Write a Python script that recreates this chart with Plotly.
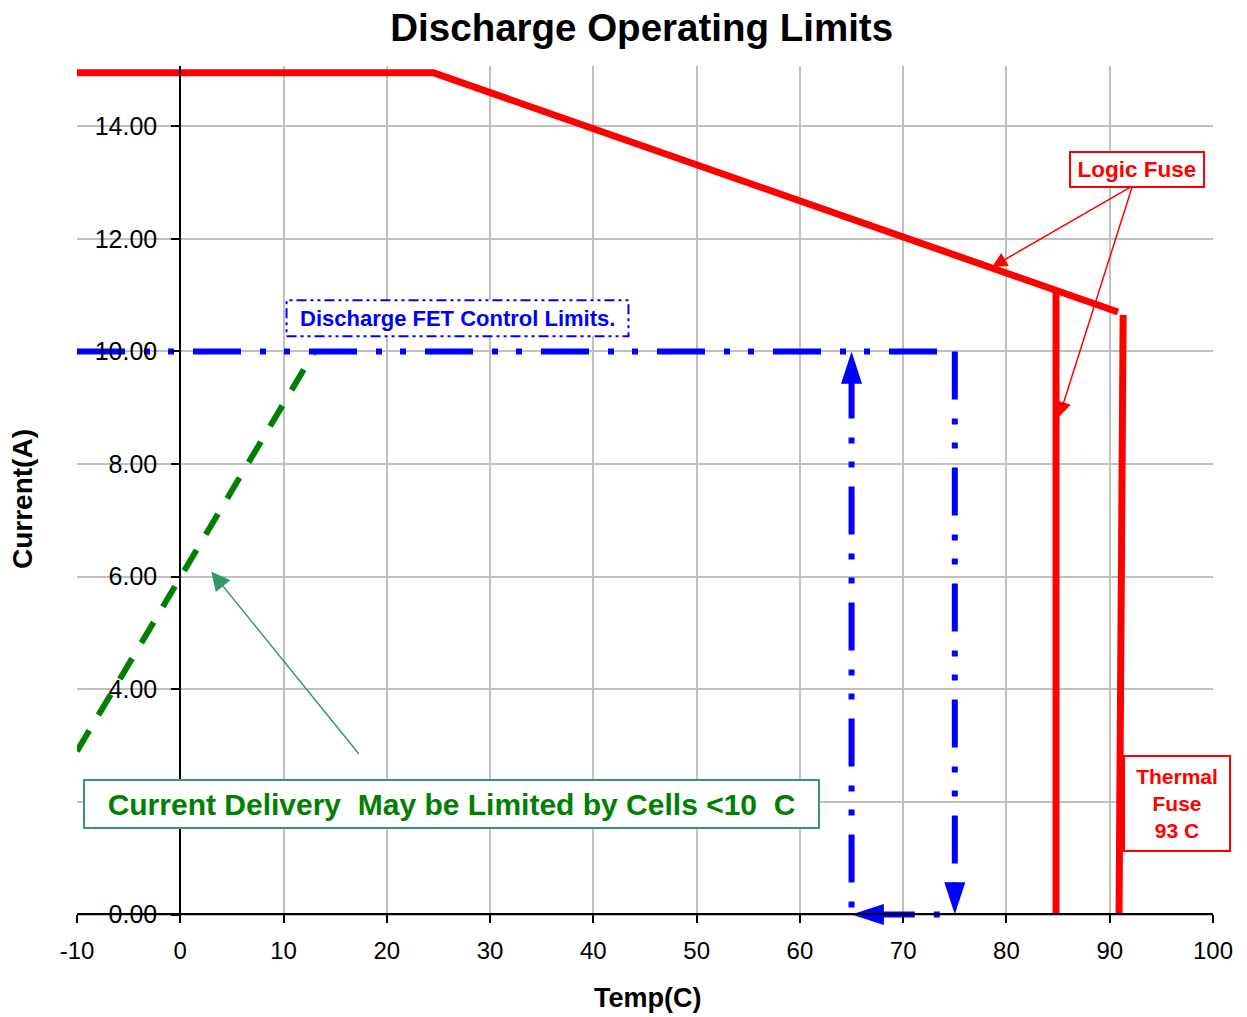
import plotly.graph_objects as go

# ---------------- data ----------------
temp_ticks = [-10, 0, 10, 20, 30, 40, 50, 60, 70, 80, 90, 100]
temp_tick_labels = ["-10", "0", "10", "20", "30", "40", "50", "60", "70", "80", "90", "100"]
current_ticks = [0, 2, 4, 6, 8, 10, 12, 14]
# the 2.00 label sits hidden behind the green note box in the reference
current_tick_labels = ["0.00", "", "4.00", "6.00", "8.00", "10.00", "12.00", "14.00"]

limit_temp = [-10, 24.5, 90.8]
limit_current = [14.95, 14.95, 10.7]
logic_fuse_temp = [84.8, 84.8]
logic_fuse_current = [11.1, 0]
thermal_fuse_temp = [91.3, 90.9]
thermal_fuse_current = [10.65, 0]
cell_temp = [-10, 13]
cell_current = [2.9, 10]
fet_temp = [-10, 75, 75, 65, 65]
fet_current = [10, 10, 0, 0, 10]

# ---------------- styles ----------------
RED = "#FF0000"
BLUE = "#0000FF"
GREEN = "#008000"
SEA = "#339966"
FONT = "Liberation Sans, Arial, sans-serif"
GRID = "#C0C0C0"

fig = go.Figure()

# green dashed cell limit
fig.add_trace(go.Scatter(x=cell_temp, y=cell_current, mode="lines",
                         line=dict(color=GREEN, width=6, dash="24px,18px"),
                         hoverinfo="skip", showlegend=False))

# blue FET control limits (segments with arrows)
FET_DASH = "48px,19px,6px,18px,6px,19px"
fet_dashes = [FET_DASH, FET_DASH,
              "0px,15px,6px,19px,48px,19px,6px,3px",
              "0px,7px,6px,19px,48px,19px,6px,11px"]
for i in range(4):
    fig.add_trace(go.Scatter(
        x=fet_temp[i:i + 2], y=fet_current[i:i + 2],
        mode="lines" if i == 0 else "lines+markers",
        line=dict(color=BLUE, width=6, dash=fet_dashes[i]),
        marker=dict(symbol="arrow", size=[0, 34], angleref="previous", color=BLUE,
                    opacity=1, line=dict(width=0)),
        cliponaxis=False, hoverinfo="skip", showlegend=False))

# red limits
for xs, ys in [(limit_temp, limit_current),
               (logic_fuse_temp, logic_fuse_current),
               (thermal_fuse_temp, thermal_fuse_current)]:
    fig.add_trace(go.Scatter(x=xs, y=ys, mode="lines",
                             line=dict(color=RED, width=7),
                             hoverinfo="skip", showlegend=False))

y_lo, y_hi = -0.08, 15.07
x_lo, x_hi = -10, 100

fig.update_layout(
    width=1247, height=1017,
    margin=dict(l=77, r=34, t=66, b=98),
    paper_bgcolor="white", plot_bgcolor="white",
    font=dict(family=FONT, color="black"),
    title=dict(text="<b>Discharge Operating Limits</b>", font=dict(size=38.5, family=FONT),
               x=(641.7 - 77) / (1247 - 77 - 34), xref="paper", xanchor="center",
               y=1 - 28 / 1017, yref="container", yanchor="middle"),
    xaxis=dict(range=[x_lo, x_hi], tickvals=temp_ticks, ticktext=temp_tick_labels,
               ticks="outside", ticklen=8, tickwidth=2, tickcolor="black",
               showline=True, linecolor="black", linewidth=2,
               showgrid=True, gridcolor=GRID, gridwidth=1.5, zeroline=False,
               anchor="free", position=(0 - y_lo) / (y_hi - y_lo),
               tickfont=dict(size=24, family=FONT), ticklabelstandoff=7),
    yaxis=dict(range=[y_lo, y_hi], tickvals=current_ticks, ticktext=current_tick_labels,
               ticks="outside", ticklen=8, tickwidth=2, tickcolor="black",
               showline=True, linecolor="black", linewidth=2,
               showgrid=True, gridcolor=GRID, gridwidth=1.5, zeroline=False,
               anchor="free", position=(0 - x_lo) / (x_hi - x_lo),
               tickfont=dict(size=25, family=FONT), ticklabelstandoff=9),
)

plot_h = 1017 - 66 - 98
plot_w = 1247 - 77 - 34

# FET box (dashed border)
fig.add_shape(type="rect", x0=10.29, x1=43.4, y0=10.27, y1=10.91,
              xref="x", yref="y", layer="above",
              line=dict(color=BLUE, width=2, dash="10px,4px,3px,4px,3px,4px"),
              fillcolor="white")

annotations = [
    # axis titles
    dict(text="<b>Temp(C)</b>", x=(647.5 - 77) / plot_w, y=-(998 - 919) / plot_h,
         xref="paper", yref="paper", showarrow=False, xanchor="center", yanchor="middle",
         font=dict(size=27, family=FONT, color="black")),
    dict(text="<b>Current(A)</b>", x=(22 - 77) / plot_w, y=(919 - 499) / plot_h,
         xref="paper", yref="paper", showarrow=False, xanchor="center", yanchor="middle",
         textangle=-90, font=dict(size=28, family=FONT, color="black")),
    # FET label
    dict(text="<b>Discharge FET Control Limits.</b>", x=26.85, y=10.59, xref="x", yref="y",
         showarrow=False, xanchor="center", yanchor="middle",
         font=dict(size=22, family=FONT, color=BLUE)),
    # Logic fuse arrows
    dict(text="", x=78.6, y=11.5, ax=92.2, ay=12.94, xref="x", yref="y",
         axref="x", ayref="y", showarrow=True, arrowhead=2, arrowsize=2,
         arrowwidth=1.5, arrowcolor=RED),
    dict(text="", x=85.1, y=8.84, ax=92.2, ay=12.94, xref="x", yref="y",
         axref="x", ayref="y", showarrow=True, arrowhead=2, arrowsize=2,
         arrowwidth=1.5, arrowcolor=RED),
    dict(text="<b>Logic Fuse</b>", x=92.6, y=13.24, xref="x", yref="y",
         showarrow=False, xanchor="center", yanchor="middle",
         width=128, height=29, borderpad=2, borderwidth=2, bordercolor=RED,
         bgcolor="white", font=dict(size=22.5, family=FONT, color=RED)),
    # Green arrow + box
    dict(text="", x=3.0, y=6.09, ax=17.4, ay=2.83, xref="x", yref="y",
         axref="x", ayref="y", showarrow=True, arrowhead=2, arrowsize=2.5,
         arrowwidth=1.5, arrowcolor=SEA),
    dict(text="<b>Current Delivery\u00a0 May be Limited by Cells &lt;10\u00a0 C</b>",
         x=26.23, y=1.96, xref="x", yref="y", showarrow=False,
         xanchor="center", yanchor="middle",
         width=729, height=42, borderpad=2, borderwidth=2, bordercolor=SEA,
         bgcolor="white", font=dict(size=30, family=FONT, color=GREEN)),
    # Thermal fuse box
    dict(text="<b>Thermal<br>Fuse<br>93 C</b>", x=96.56, y=1.98, xref="x", yref="y",
         showarrow=False, xanchor="center", yanchor="middle",
         width=100, height=89, borderpad=2, borderwidth=2, bordercolor=RED,
         bgcolor="white", font=dict(size=21, family=FONT, color=RED)),
]
fig.update_layout(annotations=annotations)

fig.write_html("out.html", config={"displayModeBar": False},
               post_script="document.body.style.margin='0';document.body.style.overflow='hidden';")
